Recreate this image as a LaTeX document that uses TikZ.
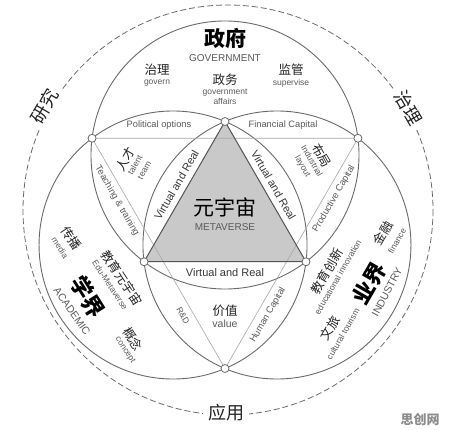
\documentclass[tikz,border=0pt]{standalone}
\usepackage{fontspec}
\setmainfont{Liberation Sans}
\newfontfamily\cjk{Noto Sans CJK SC}
\definecolor{lineg}{HTML}{6A6A6A}
\definecolor{thing}{HTML}{A8A8A8}
\definecolor{trig}{HTML}{C9C9C9}
\definecolor{txtg}{HTML}{5A5A5A}
\definecolor{txtk}{HTML}{222222}
\begin{document}
\begin{tikzpicture}[x=1pt,y=-1pt,
  circ/.style={draw=lineg,line width=0.9pt},
  thinl/.style={draw=thing,line width=0.6pt},
  tri/.style={draw=lineg!80!black,line width=1pt},
  dot/.style={circle,draw=lineg,fill=white,line width=0.8pt,minimum size=8pt,inner sep=0pt},
  dashc/.style={draw=lineg,line width=0.8pt,dash pattern=on 6pt off 3pt},
  cn/.style={font=\cjk\fontsize{12.5}{13}\selectfont,text=txtk,inner sep=1pt},
  cnbig/.style={font=\cjk\bfseries\fontsize{21}{22}\selectfont,text=black,inner sep=1pt},
  cnout/.style={font=\cjk\fontsize{18}{19}\selectfont,text=txtk,fill=white,inner xsep=5pt,inner ysep=2pt},
  en/.style={font=\fontsize{8.5}{10}\selectfont,text=txtg,inner sep=1pt},
  enl/.style={font=\fontsize{9.3}{10}\selectfont,text=txtg,inner sep=1pt},
  encap/.style={font=\fontsize{10}{11}\selectfont,text=txtg,inner sep=1pt},
  vr/.style={font=\fontsize{11}{12}\selectfont,text=txtk!90,inner sep=1pt}
]
\useasboundingbox (0,0) rectangle (450,430);
\fill[white] (0,0) rectangle (450,430);

% geometry
\coordinate (Ct) at (225,155);
\coordinate (Cl) at (173.04,245);
\coordinate (Cr) at (276.96,245);
\coordinate (T) at (225,121.5);
\coordinate (L) at (144.03,261.75);
\coordinate (R) at (305.97,261.75);
\coordinate (OL) at (92.06,138.25);
\coordinate (OR) at (357.94,138.25);
\coordinate (OB) at (225,368.5);
\coordinate (D) at (228,210);

% central triangle fill
\fill[trig] (T) -- (L) -- (R) -- cycle;

% outer dashed circle
\draw[dashc] (D) circle (205);

% three circles
\draw[circ] (Ct) circle (134);
\draw[circ] (Cl) circle (134);
\draw[circ] (Cr) circle (134);

% outer thin triangle
\draw[thinl] (OL) -- (OR) -- (OB) -- cycle;

% inner triangle
\draw[tri] (T) -- (L) -- (R) -- cycle;

% intersection dots
\node[dot] (dT) at (T) {};
\node[dot] (dL) at (L) {};
\node[dot] (dR) at (R) {};
\node[dot] (dOL) at (OL) {};
\node[dot] (dOR) at (OR) {};
\node[dot] (dOB) at (OB) {};

% outer labels on dashed circle
\node[cnout,rotate=60] (yj) at (45,106) {研究};
\node[cnout,rotate=-60] (zl2) at (408,108) {治理};
\node[cnout] (yy) at (226,413) {应用};

% government circle
\node[cnbig] (gov) at (225,38) {政府};
\node[encap] (govE) at (225,58) {GOVERNMENT};
\node[cn] (zl) at (157,70) {治理};
\node[en] (zlE) at (157,83) {govern};
\node[cn] (zw) at (225,80) {政务};
\node[en,align=center] (zwE) at (225,97) {government\\affairs};
\node[cn] (jg) at (291,70) {监管};
\node[en] (jgE) at (291,83) {supervise};
\node[enl] (po) at (159,125) {Political options};
\node[enl] (fc) at (283,125) {Financial Capital};

% left-upper lens
\node[cn,rotate=60] (rc) at (125.5,159.5) {人才};
\node[en,rotate=60] (rcE1) at (135,165) {talent};
\node[en,rotate=60] (rcE2) at (144.5,170.5) {team};
\node[enl,rotate=-60] (tt) at (117,201) {Teaching \& training};

% right-upper lens
\node[cn,rotate=-60] (bj) at (321.5,155.5) {布局};
\node[en,rotate=-60] (bjE1) at (312,161) {Industrial};
\node[en,rotate=-60] (bjE2) at (302.5,166.5) {layout};
\node[enl,rotate=60] (pc) at (334,199) {Productive Capital};

% center
\node[cnbig,font=\cjk\fontsize{21}{22}\selectfont] (mv) at (225,207) {元宇宙};
\node[encap] (mvE) at (225,227) {METAVERSE};
\node[vr,rotate=60] (vrL) at (176.5,185) {Virtual and Real};
\node[vr,rotate=-60] (vrR) at (273.5,185) {Virtual and Real};
\node[vr] (vrB) at (225,273) {Virtual and Real};

% bottom lens
\node[cn] (jz) at (225,311) {价值};
\node[font=\fontsize{10.5}{11}\selectfont,text=txtg,inner sep=1pt] (jzE) at (225,324) {value};
\node[en,rotate=-60] (rd) at (183,316) {R\&D};
\node[enl,rotate=60] (hc) at (268,315) {Human Capital};

% academic circle
\node[cn,rotate=-57] (cb) at (71,238) {传播};
\node[en,rotate=-57] (cbE) at (60,248) {media};
\node[cn,rotate=-57] (jy) at (122,278) {教育元宇宙};
\node[en,rotate=-57] (jyE) at (110,285) {Edu-Metaverse};
\node[cnbig,font=\cjk\bfseries\fontsize{22}{23}\selectfont,rotate=-58] (xj) at (88,297) {学界};
\node[encap,font=\fontsize{10.5}{11}\selectfont,rotate=-55] (xjE) at (72,311) {ACADEMIC};
\node[cn,rotate=-57] (gn) at (133,339) {概念};
\node[en,rotate=-57] (gnE) at (125,350) {concept};

% industry circle
\node[cn,rotate=60] (jr) at (383,233) {金融};
\node[en,rotate=60] (jrE) at (397,241) {finance};
\node[cn,rotate=60] (cx) at (327,271) {教育创新};
\node[en,rotate=60] (cxE) at (338,277) {educational innovation};
\node[cnbig,font=\cjk\bfseries\fontsize{22}{23}\selectfont,rotate=60] (yjie) at (369,283) {业界};
\node[encap,font=\fontsize{10.5}{11}\selectfont,rotate=62] (yjieE) at (387,292) {INDUSTRY};
\node[cn,rotate=60] (wl) at (330,328) {文旅};
\node[en,rotate=60] (wlE) at (343,334) {cultural tourism};

% watermark
\node[font=\cjk\bfseries\fontsize{13}{14}\selectfont,text=black!45] (wm) at (420,420) {思创网};
\end{tikzpicture}
\end{document}
